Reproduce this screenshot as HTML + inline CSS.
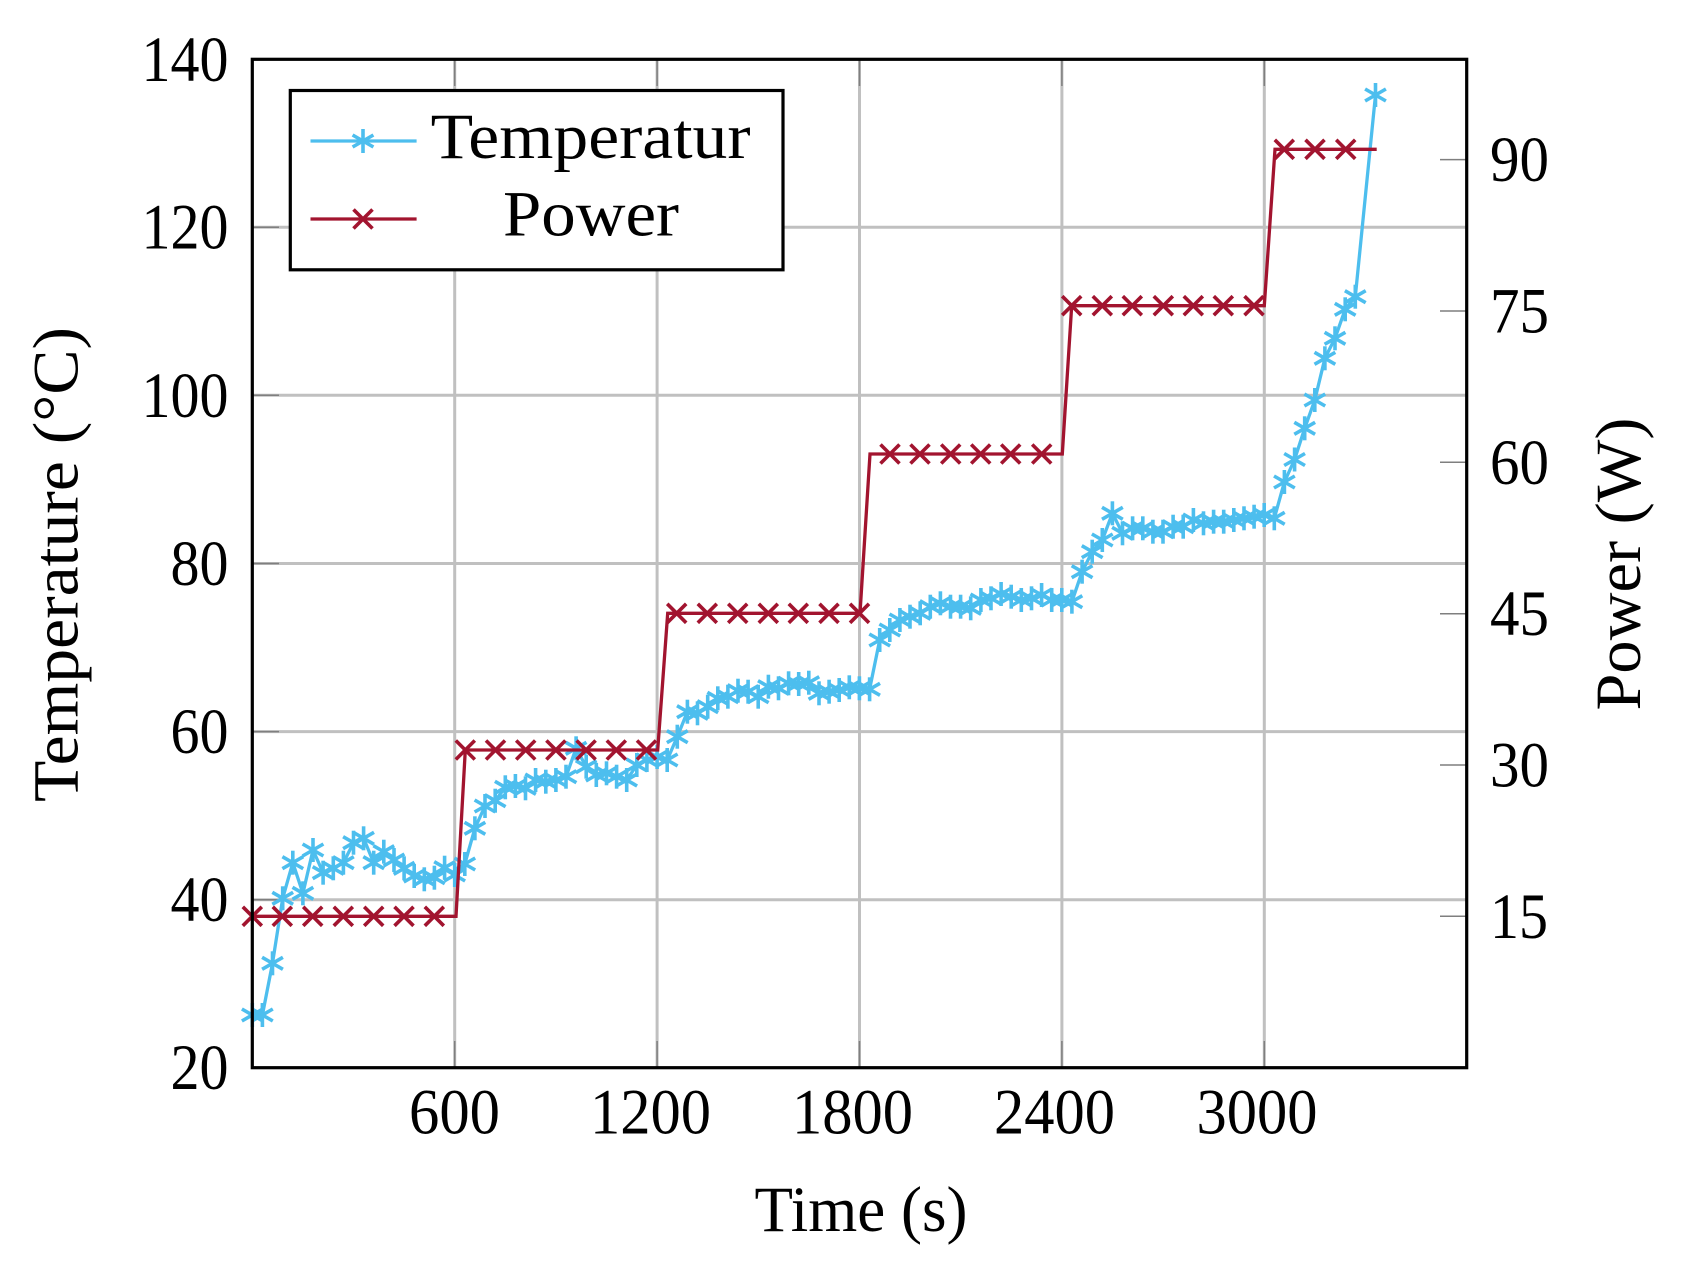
<!DOCTYPE html>
<html>
<head>
<meta charset="utf-8">
<style>
  html, body { margin: 0; padding: 0; background: #ffffff; }
  svg { display: block; }
  text { font-family: "Liberation Serif", "DejaVu Serif", serif; font-size: 65px; fill: #000; }
</style>
</head>
<body>
<svg width="1688" height="1271" viewBox="0 0 1688 1271" xmlns="http://www.w3.org/2000/svg">
  <rect x="0" y="0" width="1688" height="1271" fill="#ffffff"/>
  <defs>
    <g id="ast" stroke="#4DBEEE" stroke-width="3.6" fill="none">
      <line x1="0" y1="-12" x2="0" y2="12"/>
      <line x1="-10.4" y1="-6" x2="10.4" y2="6"/>
      <line x1="-10.4" y1="6" x2="10.4" y2="-6"/>
    </g>
    <g id="crs" stroke="#A2142F" stroke-width="3.6" fill="none">
      <line x1="-9.5" y1="-9.5" x2="9.5" y2="9.5"/>
      <line x1="-9.5" y1="9.5" x2="9.5" y2="-9.5"/>
    </g>
  </defs>

  <!-- grid -->
  <g stroke="#c0c0c0" stroke-width="3">
    <line x1="454.7" y1="59.5" x2="454.7" y2="1067.7"/>
    <line x1="657.1" y1="59.5" x2="657.1" y2="1067.7"/>
    <line x1="859.5" y1="59.5" x2="859.5" y2="1067.7"/>
    <line x1="1061.9" y1="59.5" x2="1061.9" y2="1067.7"/>
    <line x1="1264.3" y1="59.5" x2="1264.3" y2="1067.7"/>
    <line x1="252.3" y1="899.7" x2="1466.7" y2="899.7"/>
    <line x1="252.3" y1="731.6" x2="1466.7" y2="731.6"/>
    <line x1="252.3" y1="563.5" x2="1466.7" y2="563.5"/>
    <line x1="252.3" y1="395.3" x2="1466.7" y2="395.3"/>
    <line x1="252.3" y1="227.2" x2="1466.7" y2="227.2"/>
  </g>

  <!-- ticks -->
  <g stroke="#7f7f7f" stroke-width="1.5">
    <line x1="454.7" y1="1067.7" x2="454.7" y2="1041"/>
    <line x1="657.1" y1="1067.7" x2="657.1" y2="1041"/>
    <line x1="859.5" y1="1067.7" x2="859.5" y2="1041"/>
    <line x1="1061.9" y1="1067.7" x2="1061.9" y2="1041"/>
    <line x1="1264.3" y1="1067.7" x2="1264.3" y2="1041"/>
    <line x1="454.7" y1="59.5" x2="454.7" y2="86"/>
    <line x1="657.1" y1="59.5" x2="657.1" y2="86"/>
    <line x1="859.5" y1="59.5" x2="859.5" y2="86"/>
    <line x1="1061.9" y1="59.5" x2="1061.9" y2="86"/>
    <line x1="1264.3" y1="59.5" x2="1264.3" y2="86"/>
    <line x1="252.3" y1="899.7" x2="279" y2="899.7"/>
    <line x1="252.3" y1="731.6" x2="279" y2="731.6"/>
    <line x1="252.3" y1="563.5" x2="279" y2="563.5"/>
    <line x1="252.3" y1="395.3" x2="279" y2="395.3"/>
    <line x1="252.3" y1="227.2" x2="279" y2="227.2"/>
    <line x1="1466.7" y1="916.3" x2="1440" y2="916.3"/>
    <line x1="1466.7" y1="765" x2="1440" y2="765"/>
    <line x1="1466.7" y1="613.7" x2="1440" y2="613.7"/>
    <line x1="1466.7" y1="462.3" x2="1440" y2="462.3"/>
    <line x1="1466.7" y1="311" x2="1440" y2="311"/>
    <line x1="1466.7" y1="159.6" x2="1440" y2="159.6"/>
  </g>

  <!-- temperature series -->
  <polyline fill="none" stroke="#4DBEEE" stroke-width="3.3" stroke-linejoin="round" points="
    252.3,1015 262.4,1015 272.5,963.3 282.7,898.3 292.8,862.7 302.9,893.3 313.0,850 323.1,872.7
    333.3,868.3 343.4,862.7 353.5,842.7 363.6,838.3 373.7,862.7 383.8,851.7 394.0,860 404.1,868.3
    414.2,876 424.3,879.3 434.4,877.7 444.6,867.7 454.7,875 464.8,864 474.9,828.3 485.0,806
    495.2,800.7 505.3,787.3 515.4,786 525.5,788.3 535.6,780 545.8,781.7 555.9,780 566.0,776.7
    576.1,748.3 586.2,766.7 596.3,775 606.5,773.3 616.6,776.7 626.7,780 636.8,765 646.9,760
    657.1,757 667.2,760 677.3,736.7 687.4,711.7 697.5,713.3 707.7,706.7 717.8,698.3 727.9,696.7
    738.0,690.7 748.1,691.7 758.2,696.7 768.4,686.7 778.5,688.3 788.6,683.3 798.7,684 808.8,682.7
    819.0,693.3 829.1,691.7 839.2,690 849.3,687.3 859.4,688.3 869.6,689.3 879.7,640 889.8,630
    899.9,620 910.0,616.7 920.2,613.3 930.3,606.7 940.4,603.3 950.5,606.7 960.6,606.7 970.7,608.3
    980.9,600 991.0,598.3 1001.1,594 1011.2,596.7 1021.3,600 1031.5,598.3 1041.6,595 1051.7,600
    1061.8,600 1071.9,601.7 1082.1,571.7 1092.2,551.7 1102.3,540 1112.4,513.3 1122.5,533.3 1132.6,528.3
    1142.8,528.3 1152.9,531.7 1163.0,531.7 1173.1,526.7 1183.2,526.7 1193.4,520 1203.5,523.3 1213.6,521.7
    1223.7,521.7 1233.8,520 1244.0,518.3 1254.1,516.7 1264.2,515 1274.3,518.3 1284.4,482 1294.6,459.5
    1304.7,428.3 1314.8,400 1324.9,358.3 1335.0,338.3 1345.2,309.3 1355.3,296.7 1375.5,95"/>
  <g>
    <use href="#ast" x="252.3" y="1015"/><use href="#ast" x="262.4" y="1015"/><use href="#ast" x="272.5" y="963.3"/><use href="#ast" x="282.7" y="898.3"/>
    <use href="#ast" x="292.8" y="862.7"/><use href="#ast" x="302.9" y="893.3"/><use href="#ast" x="313.0" y="850"/><use href="#ast" x="323.1" y="872.7"/>
    <use href="#ast" x="333.3" y="868.3"/><use href="#ast" x="343.4" y="862.7"/><use href="#ast" x="353.5" y="842.7"/><use href="#ast" x="363.6" y="838.3"/>
    <use href="#ast" x="373.7" y="862.7"/><use href="#ast" x="383.8" y="851.7"/><use href="#ast" x="394.0" y="860"/><use href="#ast" x="404.1" y="868.3"/>
    <use href="#ast" x="414.2" y="876"/><use href="#ast" x="424.3" y="879.3"/><use href="#ast" x="434.4" y="877.7"/><use href="#ast" x="444.6" y="867.7"/>
    <use href="#ast" x="454.7" y="875"/><use href="#ast" x="464.8" y="864"/><use href="#ast" x="474.9" y="828.3"/><use href="#ast" x="485.0" y="806"/>
    <use href="#ast" x="495.2" y="800.7"/><use href="#ast" x="505.3" y="787.3"/><use href="#ast" x="515.4" y="786"/><use href="#ast" x="525.5" y="788.3"/>
    <use href="#ast" x="535.6" y="780"/><use href="#ast" x="545.8" y="781.7"/><use href="#ast" x="555.9" y="780"/><use href="#ast" x="566.0" y="776.7"/>
    <use href="#ast" x="576.1" y="748.3"/><use href="#ast" x="586.2" y="766.7"/><use href="#ast" x="596.3" y="775"/><use href="#ast" x="606.5" y="773.3"/>
    <use href="#ast" x="616.6" y="776.7"/><use href="#ast" x="626.7" y="780"/><use href="#ast" x="636.8" y="765"/><use href="#ast" x="646.9" y="760"/>
    <use href="#ast" x="657.1" y="757"/><use href="#ast" x="667.2" y="760"/><use href="#ast" x="677.3" y="736.7"/><use href="#ast" x="687.4" y="711.7"/>
    <use href="#ast" x="697.5" y="713.3"/><use href="#ast" x="707.7" y="706.7"/><use href="#ast" x="717.8" y="698.3"/><use href="#ast" x="727.9" y="696.7"/>
    <use href="#ast" x="738.0" y="690.7"/><use href="#ast" x="748.1" y="691.7"/><use href="#ast" x="758.2" y="696.7"/><use href="#ast" x="768.4" y="686.7"/>
    <use href="#ast" x="778.5" y="688.3"/><use href="#ast" x="788.6" y="683.3"/><use href="#ast" x="798.7" y="684"/><use href="#ast" x="808.8" y="682.7"/>
    <use href="#ast" x="819.0" y="693.3"/><use href="#ast" x="829.1" y="691.7"/><use href="#ast" x="839.2" y="690"/><use href="#ast" x="849.3" y="687.3"/>
    <use href="#ast" x="859.4" y="688.3"/><use href="#ast" x="869.6" y="689.3"/><use href="#ast" x="879.7" y="640"/><use href="#ast" x="889.8" y="630"/>
    <use href="#ast" x="899.9" y="620"/><use href="#ast" x="910.0" y="616.7"/><use href="#ast" x="920.2" y="613.3"/><use href="#ast" x="930.3" y="606.7"/>
    <use href="#ast" x="940.4" y="603.3"/><use href="#ast" x="950.5" y="606.7"/><use href="#ast" x="960.6" y="606.7"/><use href="#ast" x="970.7" y="608.3"/>
    <use href="#ast" x="980.9" y="600"/><use href="#ast" x="991.0" y="598.3"/><use href="#ast" x="1001.1" y="594"/><use href="#ast" x="1011.2" y="596.7"/>
    <use href="#ast" x="1021.3" y="600"/><use href="#ast" x="1031.5" y="598.3"/><use href="#ast" x="1041.6" y="595"/><use href="#ast" x="1051.7" y="600"/>
    <use href="#ast" x="1061.8" y="600"/><use href="#ast" x="1071.9" y="601.7"/><use href="#ast" x="1082.1" y="571.7"/><use href="#ast" x="1092.2" y="551.7"/>
    <use href="#ast" x="1102.3" y="540"/><use href="#ast" x="1112.4" y="513.3"/><use href="#ast" x="1122.5" y="533.3"/><use href="#ast" x="1132.6" y="528.3"/>
    <use href="#ast" x="1142.8" y="528.3"/><use href="#ast" x="1152.9" y="531.7"/><use href="#ast" x="1163.0" y="531.7"/><use href="#ast" x="1173.1" y="526.7"/>
    <use href="#ast" x="1183.2" y="526.7"/><use href="#ast" x="1193.4" y="520"/><use href="#ast" x="1203.5" y="523.3"/><use href="#ast" x="1213.6" y="521.7"/>
    <use href="#ast" x="1223.7" y="521.7"/><use href="#ast" x="1233.8" y="520"/><use href="#ast" x="1244.0" y="518.3"/><use href="#ast" x="1254.1" y="516.7"/>
    <use href="#ast" x="1264.2" y="515"/><use href="#ast" x="1274.3" y="518.3"/><use href="#ast" x="1284.4" y="482"/><use href="#ast" x="1294.6" y="459.5"/>
    <use href="#ast" x="1304.7" y="428.3"/><use href="#ast" x="1314.8" y="400"/><use href="#ast" x="1324.9" y="358.3"/><use href="#ast" x="1335.0" y="338.3"/>
    <use href="#ast" x="1345.2" y="309.3"/><use href="#ast" x="1355.3" y="296.7"/><use href="#ast" x="1375.5" y="95"/>
  </g>

  <!-- power series -->
  <polyline fill="none" stroke="#A2142F" stroke-width="3.3" stroke-linejoin="miter" points="
    252.3,916.3 456,916.3 465.3,750 657.7,750 667.7,613.3 860,613.3 870,454 1062.3,454
    1071.7,305.7 1264.3,305.7 1275,149.3 1376.7,149.3"/>
  <g>
    <use href="#crs" x="252.3" y="916.3"/><use href="#crs" x="282.3" y="916.3"/><use href="#crs" x="312.7" y="916.3"/><use href="#crs" x="343.3" y="916.3"/>
    <use href="#crs" x="373.7" y="916.3"/><use href="#crs" x="404" y="916.3"/><use href="#crs" x="434.3" y="916.3"/>
    <use href="#crs" x="465.3" y="750"/><use href="#crs" x="495.5" y="750"/><use href="#crs" x="525.7" y="750"/><use href="#crs" x="555.9" y="750"/>
    <use href="#crs" x="586.1" y="750"/><use href="#crs" x="616.3" y="750"/><use href="#crs" x="646.5" y="750"/>
    <use href="#crs" x="676.7" y="613.3"/><use href="#crs" x="707.3" y="613.3"/><use href="#crs" x="737.7" y="613.3"/><use href="#crs" x="768.3" y="613.3"/>
    <use href="#crs" x="798.3" y="613.3"/><use href="#crs" x="829" y="613.3"/><use href="#crs" x="859.5" y="613.3"/>
    <use href="#crs" x="890" y="454"/><use href="#crs" x="920" y="454"/><use href="#crs" x="950.7" y="454"/><use href="#crs" x="980.7" y="454"/>
    <use href="#crs" x="1010.7" y="454"/><use href="#crs" x="1041.7" y="454"/>
    <use href="#crs" x="1071.7" y="305.7"/><use href="#crs" x="1102.3" y="305.7"/><use href="#crs" x="1132.3" y="305.7"/><use href="#crs" x="1163.3" y="305.7"/>
    <use href="#crs" x="1193.3" y="305.7"/><use href="#crs" x="1223.3" y="305.7"/><use href="#crs" x="1254" y="305.7"/>
    <use href="#crs" x="1284.3" y="149.3"/><use href="#crs" x="1315" y="149.3"/><use href="#crs" x="1345.7" y="149.3"/>
  </g>

  <!-- axes frame -->
  <rect x="252.3" y="59.3" width="1214.4" height="1008.4" fill="none" stroke="#000" stroke-width="3.2"/>

  <!-- left tick labels -->
  <g text-anchor="end">
    <text x="228.5" y="1089.2" textLength="58" lengthAdjust="spacingAndGlyphs">20</text>
    <text x="228.5" y="921.2" textLength="58" lengthAdjust="spacingAndGlyphs">40</text>
    <text x="228.5" y="753.1" textLength="58" lengthAdjust="spacingAndGlyphs">60</text>
    <text x="228.5" y="585" textLength="58" lengthAdjust="spacingAndGlyphs">80</text>
    <text x="228.5" y="416.8" textLength="87" lengthAdjust="spacingAndGlyphs">100</text>
    <text x="228.5" y="248.7" textLength="87" lengthAdjust="spacingAndGlyphs">120</text>
    <text x="228.5" y="80.8" textLength="87" lengthAdjust="spacingAndGlyphs">140</text>
  </g>

  <!-- right tick labels -->
  <g text-anchor="start">
    <text x="1490" y="937.8" textLength="58" lengthAdjust="spacingAndGlyphs">15</text>
    <text x="1490" y="786.5" textLength="59" lengthAdjust="spacingAndGlyphs">30</text>
    <text x="1490" y="635.2" textLength="59" lengthAdjust="spacingAndGlyphs">45</text>
    <text x="1490" y="483.8" textLength="59" lengthAdjust="spacingAndGlyphs">60</text>
    <text x="1490" y="332.5" textLength="59" lengthAdjust="spacingAndGlyphs">75</text>
    <text x="1490" y="181.1" textLength="59" lengthAdjust="spacingAndGlyphs">90</text>
  </g>

  <!-- bottom tick labels -->
  <g text-anchor="middle">
    <text x="454.5" y="1133.4" textLength="91" lengthAdjust="spacingAndGlyphs">600</text>
    <text x="650.5" y="1133.4" textLength="121" lengthAdjust="spacingAndGlyphs">1200</text>
    <text x="852.5" y="1133.4" textLength="121" lengthAdjust="spacingAndGlyphs">1800</text>
    <text x="1054.5" y="1133.4" textLength="121" lengthAdjust="spacingAndGlyphs">2400</text>
    <text x="1257" y="1133.4" textLength="121" lengthAdjust="spacingAndGlyphs">3000</text>
  </g>

  <!-- axis labels -->
  <text x="861" y="1231" text-anchor="middle" textLength="213" lengthAdjust="spacingAndGlyphs">Time (s)</text>
  <text transform="translate(77.3,564.5) rotate(-90)" x="0" y="0" text-anchor="middle" textLength="475" lengthAdjust="spacingAndGlyphs">Temperature (°C)</text>
  <text transform="translate(1640,564) rotate(-90)" x="0" y="0" text-anchor="middle" textLength="293" lengthAdjust="spacingAndGlyphs">Power (W)</text>

  <!-- legend -->
  <rect x="290.3" y="90.5" width="492.7" height="179.3" fill="#ffffff" stroke="#000" stroke-width="3.2"/>
  <line x1="310.5" y1="141" x2="416.6" y2="141" stroke="#4DBEEE" stroke-width="3.3"/>
  <use href="#ast" x="363" y="141"/>
  <line x1="310.5" y1="219" x2="416.6" y2="219" stroke="#A2142F" stroke-width="3.3"/>
  <use href="#crs" x="363" y="219"/>
  <text x="430.6" y="158" textLength="320" lengthAdjust="spacingAndGlyphs">Temperatur</text>
  <text x="503" y="235.5" textLength="176" lengthAdjust="spacingAndGlyphs">Power</text>
</svg>
</body>
</html>
